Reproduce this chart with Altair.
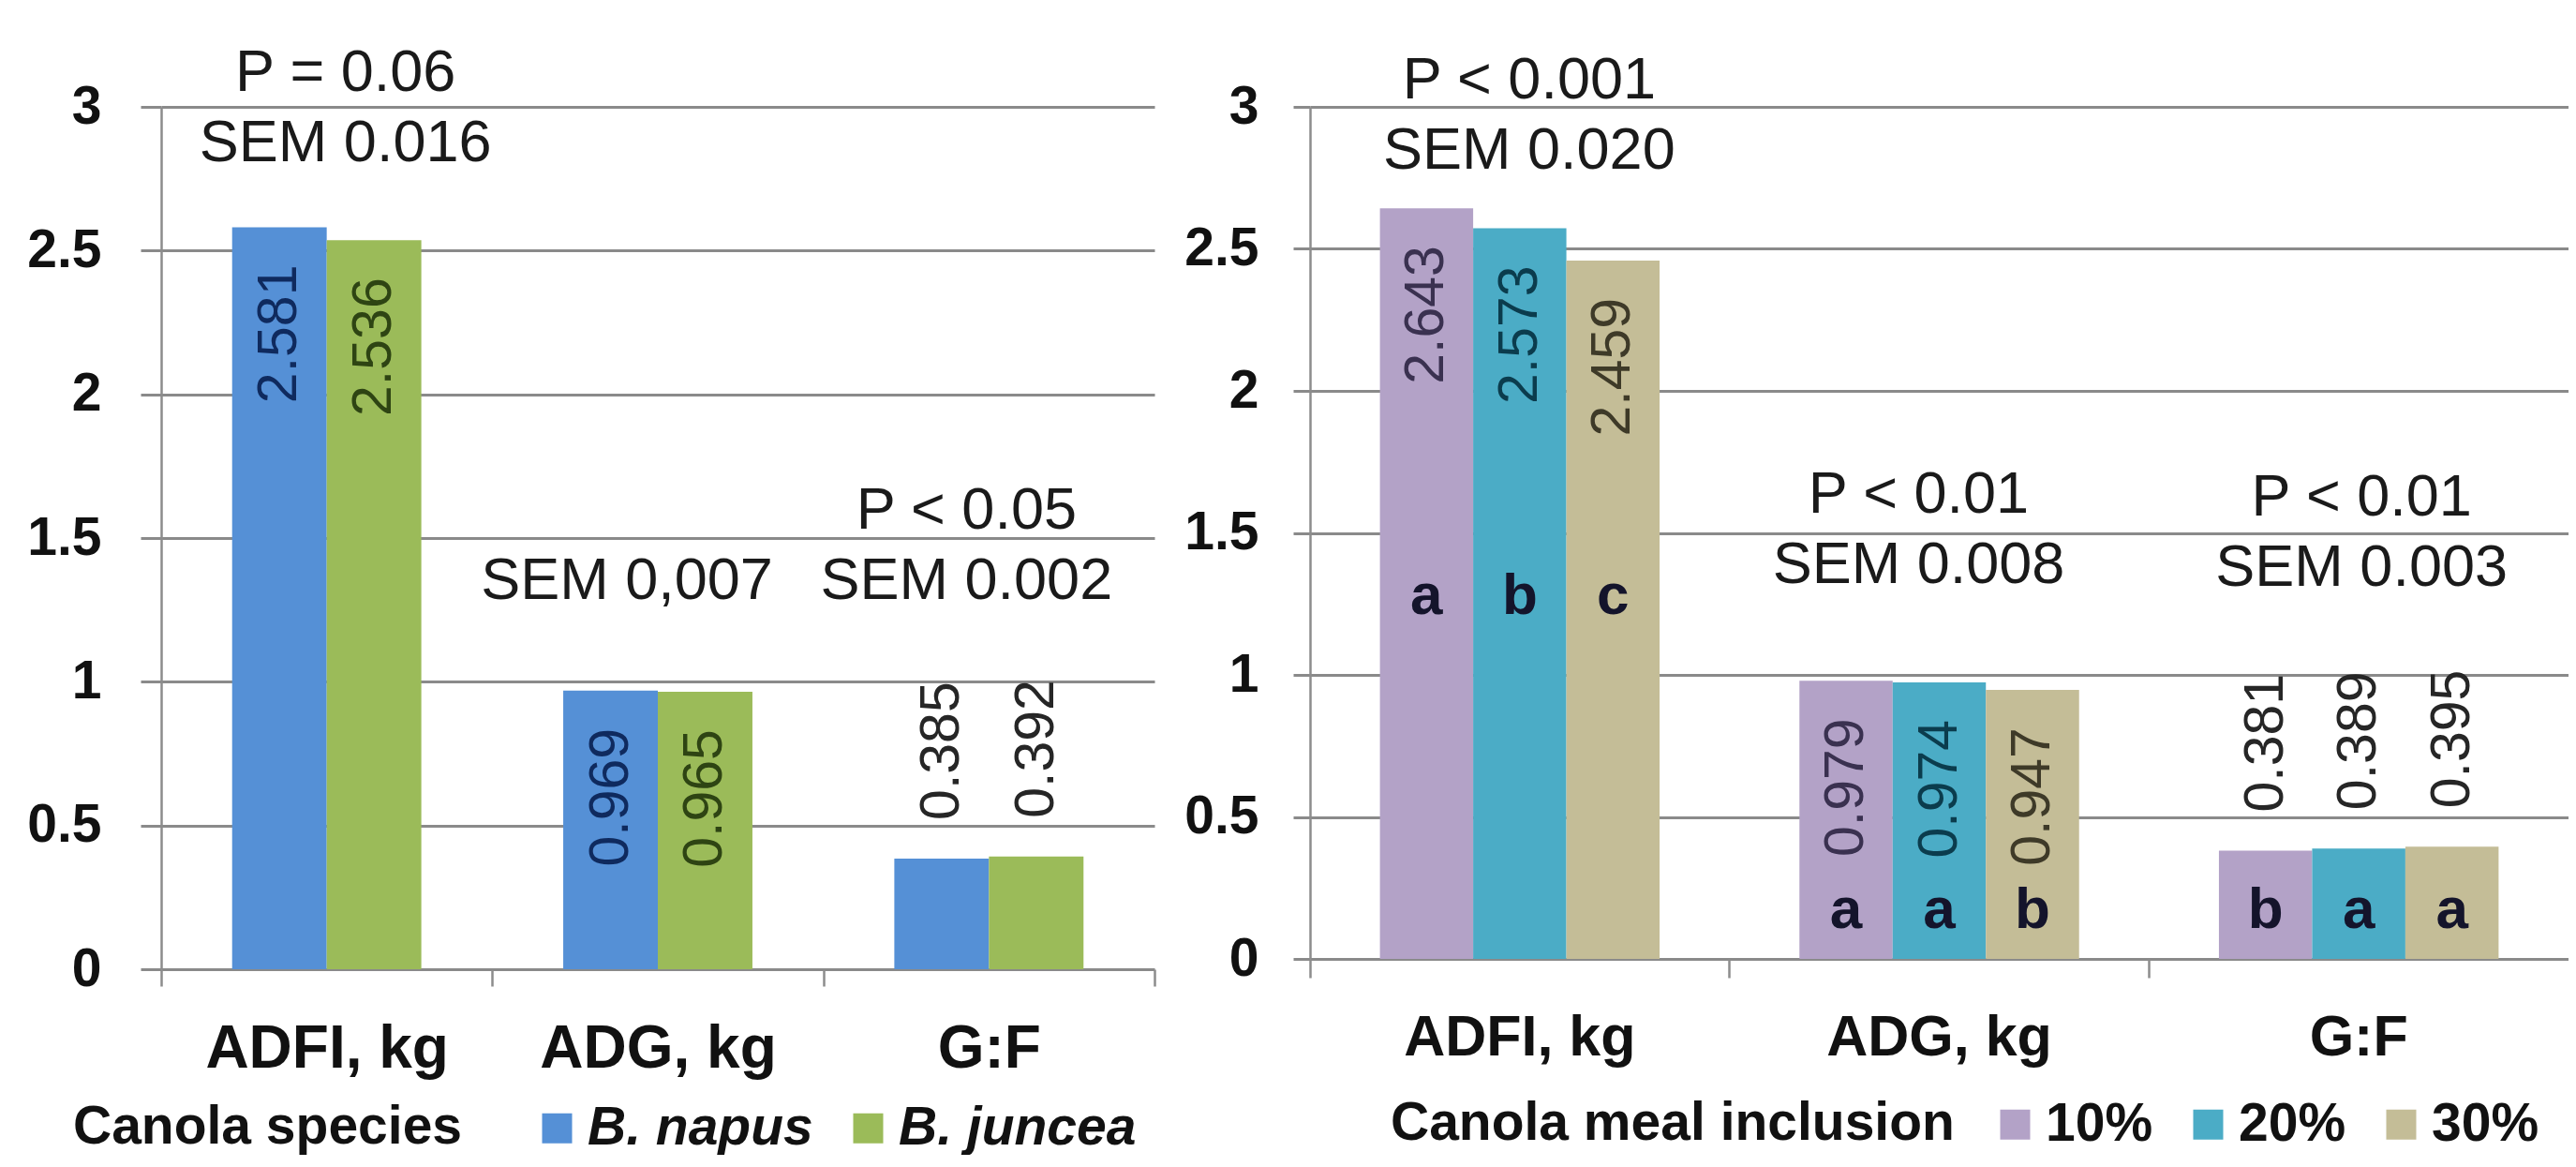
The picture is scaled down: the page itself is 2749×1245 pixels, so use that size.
import altair as alt
import pandas as pd

FONT = "Liberation Sans"
GRID = "#8a8a8a"
AXIS = "#8c8c8c"
INK = "#111111"

# ---------------- data ----------------
metrics = ["ADFI, kg", "ADG, kg", "G:F"]

species = ["B. napus", "B. juncea"]
napus = [2.581, 0.969, 0.385]
juncea = [2.536, 0.965, 0.392]

inclusion = ["10%", "20%", "30%"]
inc10 = [2.643, 0.979, 0.381]
inc20 = [2.573, 0.974, 0.389]
inc30 = [2.459, 0.947, 0.395]
letters10 = ["a", "a", "b"]
letters20 = ["b", "a", "a"]
letters30 = ["c", "b", "a"]
letter_level = [1.213, 0.11, 0.11]

left_p = ["P = 0.06", "", "P < 0.05"]
left_p_level = [3.056, 0.0, 1.531]
left_sem = ["SEM 0.016", "SEM 0,007", "SEM 0.002"]
left_sem_level = [2.81, 1.288, 1.288]

right_p = ["P < 0.001", "P < 0.01", "P < 0.01"]
right_p_level = [3.031, 1.570, 1.561]
right_sem = ["SEM 0.020", "SEM 0.008", "SEM 0.003"]
right_sem_level = [2.783, 1.325, 1.315]

left_colors = ["#5590d6", "#9bbb59"]
left_label_colors = ["#0f2a5e", "#2e4413"]
right_colors = ["#b3a2c7", "#4bacc6", "#c4bd97"]
right_label_colors = ["#3a3150", "#0b3c4d", "#3e3a28"]

# ---------------- tables ----------------
left_df = pd.DataFrame(
    [{"metric": m, "series": s, "value": v}
     for s, vals in zip(species, [napus, juncea]) for m, v in zip(metrics, vals)]
)
right_df = pd.DataFrame(
    [{"metric": m, "series": s, "value": v, "letter": l, "level": lv}
     for s, vals, lets in zip(inclusion, [inc10, inc20, inc30], [letters10, letters20, letters30])
     for m, v, l, lv in zip(metrics, vals, lets, letter_level)]
)


def ann_table(p, p_lv, sem, sem_lv):
    rows = []
    for m, t, lv in zip(metrics, p, p_lv):
        if t:
            rows.append({"metric": m, "label": t, "level": lv})
    for m, t, lv in zip(metrics, sem, sem_lv):
        if t:
            rows.append({"metric": m, "label": t, "level": lv})
    return pd.DataFrame(rows)


left_ann = ann_table(left_p, left_p_level, left_sem, left_sem_level)
right_ann = ann_table(right_p, right_p_level, right_sem, right_sem_level)


def y_axis(tick_size, label_pad):
    return alt.Axis(
        values=[0, 0.5, 1, 1.5, 2, 2.5, 3], format="~g", title=None,
        grid=True, gridColor=GRID, gridWidth=3,
        ticks=True, tickColor=GRID, tickWidth=3, tickSize=tick_size,
        domain=True, domainColor=AXIS, domainWidth=2.5,
        labelFont=FONT, labelFontSize=57, labelFontWeight="bold",
        labelColor=INK, labelPadding=label_pad, labelLimit=0,
    )


def panel(df, order, colors, label_colors, ann, ann_dx, width, height,
          x_scale, x_axis, yax, legend, letters=False):
    x = alt.X("metric:N", sort=metrics, scale=x_scale, axis=x_axis)
    xo = alt.XOffset("series:N", sort=order,
                     scale=alt.Scale(domain=order, paddingInner=0, paddingOuter=0.75))
    y_val = alt.Y("value:Q", scale=alt.Scale(domain=[0, 3], nice=False), axis=yax)
    y_lev = alt.Y("level:Q", scale=alt.Scale(domain=[0, 3], nice=False), axis=yax)

    bars = alt.Chart(df).mark_bar().encode(
        x=x, xOffset=xo, y=y_val,
        color=alt.Color("series:N", sort=order,
                        scale=alt.Scale(domain=order, range=colors), legend=legend),
    )
    inside = alt.Chart(df).transform_filter(alt.datum.metric != "G:F").mark_text(
        angle=270, align="right", baseline="middle", dx=-40, font=FONT, fontSize=59
    ).encode(
        x=x, xOffset=xo, y=y_val,
        text=alt.Text("value:Q", format=".3f"),
        fill=alt.Fill("series:N", sort=order,
                      scale=alt.Scale(domain=order, range=label_colors), legend=None),
    )
    outside = alt.Chart(df).transform_filter(alt.datum.metric == "G:F").mark_text(
        angle=270, align="left", baseline="middle", dx=41, font=FONT, fontSize=59,
        color="#262626",
    ).encode(x=x, xOffset=xo, y=y_val, text=alt.Text("value:Q", format=".3f"))

    layers = [bars, inside, outside]
    for m, d in zip(metrics, ann_dx):
        layers.append(
            alt.Chart(ann).transform_filter(alt.datum.metric == m).mark_text(
                align="center", baseline="alphabetic", dx=d, font=FONT,
                fontSize=63, color="#1a1a1a",
            ).encode(x=x, y=y_lev, text="label:N")
        )
    if letters:
        layers.append(
            alt.Chart(df).mark_text(
                align="center", baseline="alphabetic", font=FONT, fontSize=62,
                fontWeight="bold", color="#14142b",
            ).encode(x=x, xOffset=xo, y=y_lev, text="letter:N")
        )
    return alt.layer(*layers).properties(width=width, height=height)


left_axis_x = alt.Axis(
    title=None, tickBand="extent", domain=False, grid=False,
    ticks=True, tickColor=AXIS, tickWidth=2.5, tickSize=18,
    labelFont=FONT, labelFontSize=64, labelFontWeight="bold", labelColor=INK,
    labelAngle=0, labelPadding=86, labelBaseline="alphabetic", labelLimit=0,
)
right_axis_x = alt.Axis(
    title=None, bandPosition=0, domain=False, grid=False,
    ticks=True, tickColor=AXIS, tickWidth=2.5, tickSize=20,
    labelFont=FONT, labelFontSize=61, labelFontWeight="bold", labelColor=INK,
    labelAngle=0, labelPadding=82, labelBaseline="alphabetic", labelLimit=0,
)

left_legend = alt.Legend(
    orient="none", legendX=-94, legendY=1061, direction="horizontal",
    title="Canola species", titleOrient="left", titleAnchor="middle", titleBaseline="middle",
    titleFont=FONT, titleFontSize=57, titleFontWeight="bold", titleColor=INK, titlePadding=72,
    titleLimit=0,
    labelFont=FONT, labelFontSize=57, labelFontWeight="bold", labelFontStyle="italic",
    labelColor=INK, labelOffset=4, labelLimit=0, symbolType="square", symbolSize=1024,
    symbolStrokeWidth=0, symbolOpacity=1, columnPadding=30, padding=0,
)
right_legend = alt.Legend(
    orient="none", legendX=86, legendY=1057, direction="horizontal",
    title="Canola meal inclusion", titleOrient="left", titleAnchor="middle", titleBaseline="middle",
    titleFont=FONT, titleFontSize=57, titleFontWeight="bold", titleColor=INK, titlePadding=36,
    titleLimit=0,
    labelFont=FONT, labelFontSize=57, labelFontWeight="bold",
    labelColor=INK, labelOffset=4, labelLimit=0, symbolType="square", symbolSize=1024,
    symbolStrokeWidth=0, symbolOpacity=1, columnPadding=30, padding=0,
)

RIGHT_W = 1343
RIGHT_STEP = 461.3
right_outer = (RIGHT_W / RIGHT_STEP - 3) / 2  # negative: last band runs past the frame

left = panel(
    left_df, species, left_colors, left_label_colors, left_ann, [20, -33, -24],
    1060, 920,
    alt.Scale(domain=metrics, paddingInner=0, paddingOuter=0),
    left_axis_x, y_axis(22, 42), left_legend,
)
right = panel(
    right_df, inclusion, right_colors, right_label_colors, right_ann, [10, -22, 3],
    RIGHT_W, 909,
    alt.Scale(domain=metrics, paddingInner=0, paddingOuter={"expr": f"{right_outer:.5f}"}, align=0),
    right_axis_x, y_axis(18, 37), right_legend, letters=True,
)

chart = alt.hconcat(left, right, spacing=29).resolve_scale(
    color="independent", fill="independent", xOffset="independent"
).properties(
    padding={"left": 20, "top": 38, "right": 0, "bottom": 0},
    background="white",
).configure_view(strokeWidth=0)

chart.save("out.html", embed_options={"renderer": "svg", "actions": False})
